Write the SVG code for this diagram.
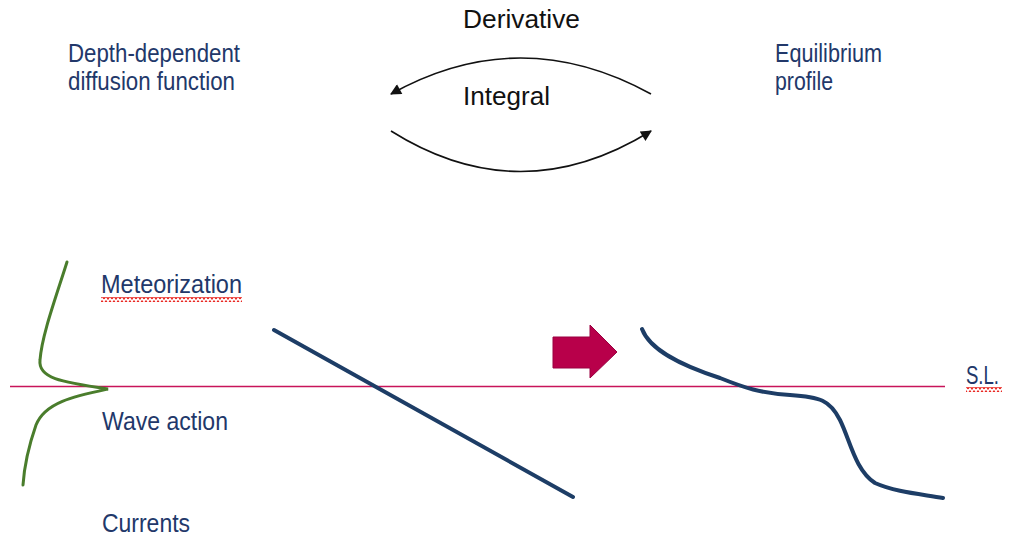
<svg xmlns="http://www.w3.org/2000/svg" width="1011" height="542" viewBox="0 0 1011 542">
<style>
.lbl{font-family:"Liberation Sans",Arial,sans-serif;font-size:26px;fill:#22386a}
.top{font-family:"Liberation Sans",Arial,sans-serif;font-size:25px;fill:#111}
.arc{fill:none;stroke:#111;stroke-width:1.6}
.prof{fill:none;stroke:#1d3d66;stroke-width:4;stroke-linecap:round}
</style>
<defs>
<marker id="ah" viewBox="0 0 10 10" refX="9" refY="5" markerWidth="18" markerHeight="11" markerUnits="userSpaceOnUse" orient="auto">
<path d="M0,0 L10,5 L0,10 z" fill="#111"/>
</marker>
<pattern id="wv" width="8" height="5" patternUnits="userSpaceOnUse">
<path d="M0,4 L2,1 L4,4 L6,1 L8,4" fill="none" stroke="#e8221c" stroke-width="1.3"/>
</pattern>
</defs>
<rect width="1011" height="542" fill="#fff"/>
<g id="labels-top">
<g id="diffusion"><text class="lbl" x="68" y="62" textLength="172" lengthAdjust="spacingAndGlyphs">Depth-dependent</text><text class="lbl" x="68" y="90" textLength="167" lengthAdjust="spacingAndGlyphs">diffusion function</text></g>
<g id="equilibrium"><text class="lbl" x="775" y="62" textLength="107" lengthAdjust="spacingAndGlyphs">Equilibrium</text><text class="lbl" x="775" y="90" textLength="58" lengthAdjust="spacingAndGlyphs">profile</text></g>
<g id="derivative"><text class="top" x="463" y="28" textLength="117" lengthAdjust="spacingAndGlyphs">Derivative</text></g>
<g id="integral"><text class="top" x="463" y="105" textLength="87" lengthAdjust="spacingAndGlyphs">Integral</text></g>
</g>
<g id="connectors">
<path class="arc" d="M651,94 Q520,22 391,94" marker-end="url(#ah)"/>
<path class="arc" d="M391,131 Q520,212 651,131" marker-end="url(#ah)"/>
</g>
<g id="sealevel">
<line x1="10" y1="386.5" x2="945" y2="386.5" stroke="#c8145a" stroke-width="1.6"/>
<text class="lbl" x="966" y="384" textLength="33" lengthAdjust="spacingAndGlyphs">S.L.</text>
<rect x="966" y="387" width="36" height="5" fill="url(#wv)"/>
</g>
<g id="diffusion-curve">
<path d="M67,262 C55,300 42,335 40,360 C38,378 60,382 108,389 C75,396 45,402 36,425 C28,448 24,470 23,485" fill="none" stroke="#4a7d2c" stroke-width="3" stroke-linecap="round"/>
<text class="lbl" x="101" y="293" textLength="141" lengthAdjust="spacingAndGlyphs">Meteorization</text>
<rect x="101" y="297" width="141" height="5" fill="url(#wv)"/>
<text class="lbl" x="102" y="430" textLength="126" lengthAdjust="spacingAndGlyphs">Wave action</text>
<text class="lbl" x="102" y="532" textLength="88" lengthAdjust="spacingAndGlyphs">Currents</text>
</g>
<g id="linear-profile">
<line class="prof" x1="274" y1="330" x2="573" y2="497"/>
</g>
<g id="big-arrow">
<path d="M553,337 L590,337 L590,325 L617,352 L590,378 L590,368 L553,368 z" fill="#b8004a" stroke="#9a0040" stroke-width="1"/>
</g>
<g id="equilibrium-profile">
<path class="prof" d="M642,329 C650,350 680,365 720,378 C745,388 760,393 790,395 C820,397 830,400 840,420 C850,440 855,470 875,483 C895,492 920,494 943,498"/>
</g>
</svg>
